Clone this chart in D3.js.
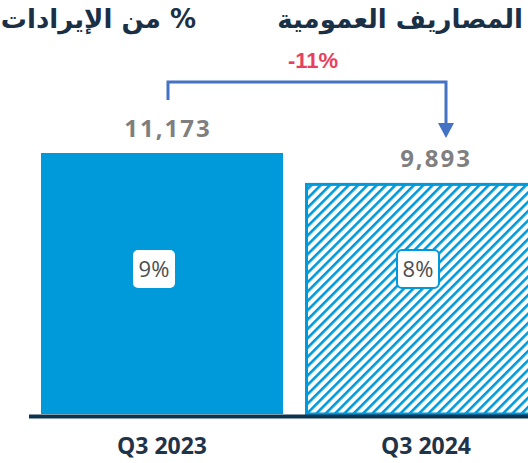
<!DOCTYPE html>
<html>
<head>
<meta charset="utf-8">
<script src="https://cdn.jsdelivr.net/npm/d3@7"></script>
<style>
  html, body { margin: 0; padding: 0; background: #fff; overflow: hidden; }
</style>
</head>
<body>
<svg id="chart"></svg>
<script>
const categories = ['Q3 2023', 'Q3 2024'];
const values = [11173, 9893];
const valueLabels = ['11,173', '9,893'];
const shareLabels = ['9%', '8%'];
const changeLabel = '-11%';
const titleRight = 'المصاريف العمومية';
const titleLeft = '%  من الإيرادات';

const width = 528, height = 463;
const baseY = 414;

const svg = d3.select('#chart')
    .attr('width', width)
    .attr('height', height);

// hatch pattern for the second bar
const defs = svg.append('defs');
const pat = defs.append('pattern')
    .attr('id', 'hatch')
    .attr('patternUnits', 'userSpaceOnUse')
    .attr('width', 6.6)
    .attr('height', 6.6)
    .attr('patternTransform', 'rotate(45)');
pat.append('rect').attr('width', 6.6).attr('height', 6.6).attr('fill', '#fff');
pat.append('rect').attr('x', 0).attr('width', 2.6).attr('height', 6.6).attr('fill', '#0099da');

const x = d3.scaleBand()
    .domain(categories)
    .range([30, 558])
    .paddingInner(22 / 264)
    .paddingOuter(11 / 264);

const y = d3.scaleLinear()
    .domain([0, 12000])
    .range([baseY, baseY - 12000 * 261 / 11173]);

const cx = i => x(categories[i]) + x.bandwidth() / 2;

// bars
svg.append('rect')
    .attr('x', x(categories[0]))
    .attr('y', y(values[0]))
    .attr('width', x.bandwidth())
    .attr('height', y(0) - y(values[0]))
    .attr('fill', '#0099da');

svg.append('rect')
    .attr('x', x(categories[1]) + 1.5)
    .attr('y', y(values[1]) + 1.5)
    .attr('width', x.bandwidth() - 3)
    .attr('height', y(0) - y(values[1]) - 1.5)
    .attr('fill', 'url(#hatch)')
    .attr('stroke', '#0099da')
    .attr('stroke-width', 3);

// baseline
svg.append('line')
    .attr('x1', 29).attr('x2', width)
    .attr('y1', baseY + 2.5).attr('y2', baseY + 2.5)
    .attr('stroke', '#0d3451')
    .attr('stroke-width', 4);

// category labels
svg.selectAll('.cat')
    .data(categories)
    .join('text')
    .attr('class', 'cat')
    .attr('x', (d, i) => cx(i))
    .attr('y', 454)
    .attr('text-anchor', 'middle')
    .attr('font-family', 'Open Sans, sans-serif')
    .attr('font-weight', 'bold')
    .attr('font-size', 23)
    .attr('fill', '#1f3349')
    .text(d => d);

// value labels
const valOffset = [6, 10];
svg.selectAll('.val')
    .data(valueLabels)
    .join('text')
    .attr('class', 'val')
    .attr('x', (d, i) => cx(i) + valOffset[i])
    .attr('y', (d, i) => y(values[i]) - 16)
    .attr('text-anchor', 'middle')
    .attr('font-family', 'Open Sans, sans-serif')
    .attr('font-weight', 'bold')
    .attr('font-size', 24)
    .attr('letter-spacing', 2)
    .attr('fill', '#7f7f7f')
    .text(d => d);

// share boxes
const boxW = 42, boxH = 38, boxCy = 269;
shareLabels.forEach((s, i) => {
    const bx = cx(i) - 8;
    svg.append('rect')
        .attr('x', bx - boxW / 2)
        .attr('y', boxCy - boxH / 2)
        .attr('width', boxW)
        .attr('height', boxH)
        .attr('rx', 5)
        .attr('fill', '#fff')
        .attr('stroke', i === 1 ? '#0099da' : 'none')
        .attr('stroke-width', 2);
    svg.append('text')
        .attr('x', bx)
        .attr('y', boxCy + 8)
        .attr('text-anchor', 'middle')
        .attr('font-family', 'Open Sans, sans-serif')
        .attr('font-size', 22)
        .attr('fill', '#4d4d4d')
        .text(s);
});

// change bracket with arrow
const bx1 = cx(0) + valOffset[0];
const bx2 = cx(1) + 20;
const topY = y(values[0]) - 71;
const tipY = y(values[1]) - 45;
svg.append('path')
    .attr('d', `M${bx1},${y(values[0]) - 53}V${topY}H${bx2}V${tipY - 14}`)
    .attr('fill', 'none')
    .attr('stroke', '#4472c4')
    .attr('stroke-width', 3);
svg.append('path')
    .attr('d', `M${bx2 - 8},${tipY - 15}L${bx2 + 8},${tipY - 15}L${bx2},${tipY}Z`)
    .attr('fill', '#4472c4');

svg.append('text')
    .attr('x', (bx1 + bx2) / 2 + 6)
    .attr('y', topY - 14)
    .attr('text-anchor', 'middle')
    .attr('font-family', 'Liberation Sans, Arial, sans-serif')
    .attr('font-weight', 'bold')
    .attr('font-size', 22)
    .attr('fill', '#e8415e')
    .text(changeLabel);

// titles (rtl: "start" is the right edge)
svg.append('text')
    .attr('x', 523)
    .attr('y', 28)
    .attr('text-anchor', 'start')
    .attr('direction', 'rtl')
    .attr('font-family', 'DejaVu Sans, sans-serif')
    .attr('font-weight', 'bold')
    .attr('font-size', 26)
    .attr('fill', '#1a3047')
    .text(titleRight);

svg.append('text')
    .attr('x', 196)
    .attr('y', 28)
    .attr('text-anchor', 'start')
    .attr('direction', 'rtl')
    .attr('font-family', 'DejaVu Sans, sans-serif')
    .attr('font-weight', 'bold')
    .attr('font-size', 26)
    .attr('fill', '#1a3047')
    .text(titleLeft);
</script>
</body>
</html>
